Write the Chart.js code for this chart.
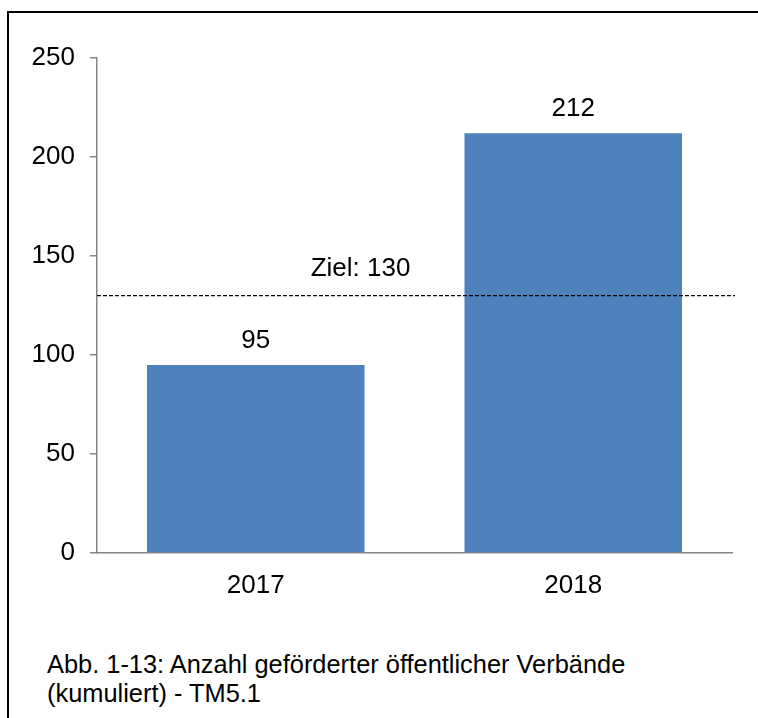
<!DOCTYPE html>
<html>
<head>
<meta charset="utf-8">
<script src="https://cdn.jsdelivr.net/npm/chart.js@4"></script>
<style>
    body { margin: 0; background: #fff; }
    #rahmen {
        position: absolute; left: 7px; top: 11px; width: 760px; height: 720px;
        border-left: 2px solid #000; border-top: 2px solid #000;
    }
    #wrap { position: absolute; left: 0; top: 0; width: 758px; height: 610px; }
    #caption {
        position: absolute; left: 47px; top: 650px;
        font-family: 'Liberation Sans', Arial, sans-serif; font-size: 25.4px; line-height: 29px; color: #000;
    }
</style>
</head>
<body>
<div id="rahmen"></div>
<div id="wrap"><canvas id="grafico" width="758" height="610"></canvas></div>
<div id="caption">Abb. 1-13: Anzahl geförderter öffentlicher Verbände<br>(kumuliert) - TM5.1</div>
<script>
let jahre = ['2017', '2018']
let verbaende = [95, 212]
let ziel = 130
let zielText = 'Ziel: 130'

let fonte = { family: "'Liberation Sans', Arial, sans-serif", size: 26 }

// Werte über den Balken + Ziellinie
let extras = {
    id: 'extras',
    afterDatasetsDraw(chart) {
        let ctx = chart.ctx
        let area = chart.chartArea
        let y = chart.scales.y.getPixelForValue(ziel)

        ctx.save()
        ctx.font = '26px ' + fonte.family
        ctx.fillStyle = '#000'
        ctx.textAlign = 'center'
        ctx.textBaseline = 'alphabetic'
        chart.getDatasetMeta(0).data.forEach((bar, i) => {
            ctx.fillText(verbaende[i], bar.x, bar.y - 17)
        })

        ctx.strokeStyle = '#000'
        ctx.lineWidth = 1.3
        ctx.setLineDash([4, 2])
        ctx.beginPath()
        ctx.moveTo(area.left, y)
        ctx.lineTo(area.right + 3, y)
        ctx.stroke()
        ctx.setLineDash([])

        ctx.fillText(zielText, area.left + (area.right - area.left) * 0.415, y - 20)
        ctx.restore()
    }
}

new Chart(document.getElementById('grafico').getContext('2d'), {
    type: 'bar',
    data: {
        labels: jahre,
        datasets: [{
            data: verbaende,
            backgroundColor: '#4F81BD',
            borderWidth: 0,
            categoryPercentage: 1,
            barPercentage: 0.685
        }]
    },
    options: {
        responsive: false,
        animation: false,
        layout: { padding: { top: 58, right: 26, left: 0, bottom: 0 } },
        plugins: { legend: { display: false }, tooltip: { enabled: false } },
        scales: {
            x: {
                grid: { display: false, drawTicks: false },
                border: { color: '#868686', width: 1.5 },
                ticks: { color: '#000', font: fonte, padding: 17 },
                afterFit: (s) => { s.height = 610 - 553 }
            },
            y: {
                min: 0,
                max: 250,
                ticks: { stepSize: 50, color: '#000', font: fonte, padding: 15 },
                grid: { drawOnChartArea: false, drawTicks: true, tickLength: 7, color: '#868686', lineWidth: 1.5 },
                border: { color: '#868686', width: 1.5 },
                afterFit: (s) => { s.width = 97 }
            }
        }
    },
    plugins: [extras]
})
</script>
</body>
</html>
